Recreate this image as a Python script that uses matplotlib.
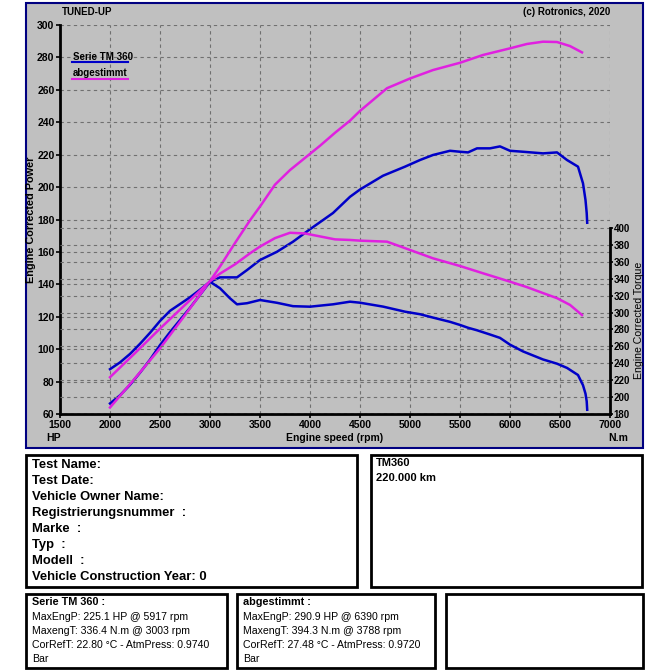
import matplotlib
matplotlib.use("Agg")
import matplotlib.pyplot as plt
from matplotlib.patches import Rectangle
from matplotlib.lines import Line2D

plt.rcParams["font.family"] = ["Liberation Sans", "DejaVu Sans"]

# Serie TM 360 (blue)
serie_rpm = [2000, 2100, 2200, 2300, 2400, 2500, 2600, 2700, 2800, 2900, 3000,
             3100, 3200, 3270, 3370, 3500, 3670, 3830, 4000, 4230, 4400, 4500,
             4730, 4950, 5100, 5230, 5400, 5500, 5580, 5670, 5800, 5900, 6000,
             6130, 6330, 6470, 6570, 6680, 6730, 6755, 6767, 6772]
serie_hp = [66.5, 71.5, 78.0, 85.5, 93.5, 102.5, 110.5, 118.0, 125.5, 133.5, 141.6,
            144.3, 144.3, 144.3, 148.8, 155.0, 160.1, 166.3, 174.0, 184.0, 194.0, 198.5,
            207.0, 212.6, 216.7, 219.8, 222.4, 221.8, 221.4, 223.9, 223.9, 225.1, 222.4,
            221.8, 220.8, 221.4, 216.7, 212.6, 202.3, 192.0, 184.0, 178.0]
serie_nm = [233.0, 241.0, 251.0, 263.0, 276.0, 290.0, 302.0, 310.0, 318.0, 327.0, 336.4,
            328.7, 316.8, 309.7, 311.0, 314.8, 311.5, 307.5, 306.9, 309.7, 312.8, 311.6,
            307.0, 301.0, 298.0, 294.0, 289.0, 285.3, 282.0, 279.0, 274.0, 270.0, 262.0,
            254.0, 244.5, 239.5, 234.5, 226.1, 214.0, 204.0, 195.0, 185.0]

# abgestimmt (magenta)
tuned_rpm = [2000, 2250, 2500, 2750, 3000, 3100, 3250, 3400, 3500, 3650, 3800,
             3950, 4100, 4250, 4400, 4500, 4770, 5000, 5230, 5500, 5730, 6000,
             6170, 6330, 6470, 6600, 6720]
tuned_hp = [64.0, 82.0, 100.5, 121.0, 142.0, 151.0, 165.5, 179.5, 188.0, 201.5, 210.5,
            218.0, 225.5, 233.5, 241.0, 247.0, 261.0, 267.0, 272.2, 276.7, 281.5, 285.6,
            288.3, 289.7, 289.5, 287.0, 283.1]
tuned_nm = [223.5, 252.0, 281.0, 309.0, 337.0, 346.0, 357.0, 370.0, 378.0, 388.0, 394.3,
            393.5, 390.0, 386.5, 385.8, 385.0, 383.8, 374.0, 364.1, 355.0, 346.4, 336.5,
            330.0, 323.0, 317.0, 309.0, 297.0]

x_ticks = [1500, 2000, 2500, 3000, 3500, 4000, 4500, 5000, 5500, 6000, 6500, 7000]
hp_ticks = list(range(60, 301, 20))
nm_ticks = list(range(180, 401, 20))

info_lines = ["Test Name:", "Test Date:", "Vehicle Owner Name:", "Registrierungsnummer  :",
              "Marke  :", "Typ  :", "Modell  :", "Vehicle Construction Year: 0"]
vehicle_lines = ["TM360", "220.000 km"]
serie_lines = ["MaxEngP: 225.1 HP @ 5917 rpm", "MaxengT: 336.4 N.m @ 3003 rpm",
               "CorRefT: 22.80 °C - AtmPress: 0.9740", "Bar"]
tuned_lines = ["MaxEngP: 290.9 HP @ 6390 rpm", "MaxengT: 394.3 N.m @ 3788 rpm",
               "CorRefT: 27.48 °C - AtmPress: 0.9720", "Bar"]

BLUE = "#0000C8"
MAGENTA = "#E020E0"
GRAY = "#C0C0C0"
W = H = 670


def fx(px):
    return px / W


def fy(py):
    return 1 - py / H


def box(fig, x0, y0, x1, y1, face="white", edge="black", lw=2.0):
    fig.add_artist(Rectangle((fx(x0), fy(y1)), fx(x1) - fx(x0), fy(y0) - fy(y1),
                             transform=fig.transFigure, facecolor=face,
                             edgecolor=edge, lw=lw, zorder=-1))


fig = plt.figure(figsize=(6.7, 6.7), dpi=100)
fig.patch.set_facecolor("white")

# chart panel
box(fig, 26, 3, 643, 448, face=GRAY, edge="#000080", lw=1.5)

ax = fig.add_axes([fx(60), fy(414), fx(610) - fx(60), fy(25) - fy(414)])
ax.set_facecolor(GRAY)
ax.set_xlim(1500, 7000)
ax.set_ylim(60, 300)
ax.set_xticks(x_ticks)
ax.set_yticks(hp_ticks)
grid_kw = dict(color="#707070", linestyle=(0, (3, 3)), linewidth=0.8)
ax.grid(True, **grid_kw)
for s in ["top", "right"]:
    ax.spines[s].set_visible(False)
for s in ["left", "bottom"]:
    ax.spines[s].set_linewidth(2)
ax.tick_params(axis="both", labelsize=7.5, length=3, width=1.2, pad=1)
for lab in ax.get_xticklabels() + ax.get_yticklabels():
    lab.set_fontweight("bold")
ax.set_ylabel("Engine Corrected Power", fontsize=7.8, fontweight="bold", labelpad=1)

ax.plot(serie_rpm, serie_hp, color=BLUE, lw=1.8)
ax.plot(tuned_rpm, tuned_hp, color=MAGENTA, lw=1.8)

# torque axis: 180..400 on the lower part of the plot
ax2 = ax.twinx()
ax2.set_ylim(180, 640)
ax2.set_yticks(nm_ticks)
ax2.yaxis.grid(True, **grid_kw)
for s in ["top", "left", "bottom"]:
    ax2.spines[s].set_visible(False)
ax2.spines["right"].set_linewidth(2)
ax2.spines["right"].set_bounds(180, 400)
ax2.tick_params(axis="y", labelsize=7, length=2.5, width=1.2, pad=0)
for lab in ax2.get_yticklabels():
    lab.set_fontweight("bold")
ax2.plot(serie_rpm, serie_nm, color=BLUE, lw=1.8)
ax2.plot(tuned_rpm, tuned_nm, color=MAGENTA, lw=1.8)
fig.text(fx(638.5), fy(320), "Engine Corrected Torque", fontsize=7.6, rotation=90,
         ha="center", va="center")

# header and axis captions
fig.text(fx(62), fy(12), "TUNED-UP", fontsize=7, fontweight="bold", va="center")
fig.text(fx(610), fy(12), "(c) Rotronics, 2020", fontsize=7, fontweight="bold",
         va="center", ha="right")
fig.text(fx(46), fy(438), "HP", fontsize=7.5, fontweight="bold", va="center")
fig.text(fx(335), fy(438), "Engine speed (rpm)", fontsize=7.5, fontweight="bold",
         va="center", ha="center")
fig.text(fx(628), fy(438), "N.m", fontsize=7.5, fontweight="bold", va="center", ha="right")

# legend
box(fig, 68, 50, 130, 88, face=GRAY, edge="black", lw=1.0)
fig.text(fx(73), fy(57), "Serie TM 360", fontsize=7, fontweight="bold", va="center")
fig.add_artist(Line2D([fx(72), fx(128)], [fy(62), fy(62)], color=BLUE, lw=1.5,
                      transform=fig.transFigure))
fig.text(fx(73), fy(73), "abgestimmt", fontsize=7, fontweight="bold", va="center")
fig.add_artist(Line2D([fx(72), fx(128)], [fy(79), fy(79)], color=MAGENTA, lw=1.5,
                      transform=fig.transFigure))

# info boxes
box(fig, 26, 455, 357, 587)
for i, t in enumerate(info_lines):
    fig.text(fx(32), fy(465 + i * 16), t, fontsize=9.4, fontweight="bold", va="center")

box(fig, 371, 455, 642, 587)
for i, t in enumerate(vehicle_lines):
    fig.text(fx(376), fy(463 + i * 15), t, fontsize=8, fontweight="bold", va="center")

box(fig, 26, 594, 227, 668)
fig.text(fx(32), fy(602), "Serie TM 360 :", fontsize=7.8, fontweight="bold", va="center")
for i, t in enumerate(serie_lines):
    fig.text(fx(32), fy(616.5 + i * 14.3), t, fontsize=7.6, va="center")

box(fig, 237, 594, 435, 668)
fig.text(fx(243), fy(602), "abgestimmt :", fontsize=7.8, fontweight="bold", va="center")
for i, t in enumerate(tuned_lines):
    fig.text(fx(243), fy(616.5 + i * 14.3), t, fontsize=7.6, va="center")

box(fig, 446, 594, 643, 668)

fig.savefig("out.png", dpi=100)
